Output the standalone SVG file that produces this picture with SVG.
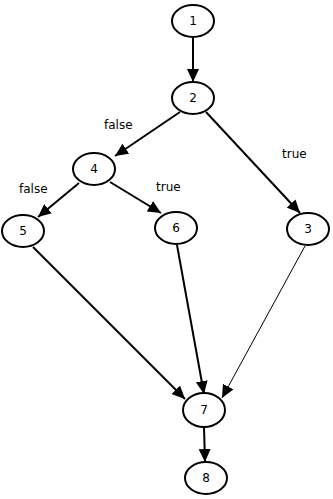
<svg xmlns="http://www.w3.org/2000/svg" width="333" height="499" viewBox="0 0 333 499">
  <style>
    .node ellipse { fill: #ffffff; stroke: #000000; stroke-width: 2; }
    .node text, .lbl { font-family: "DejaVu Sans", "Liberation Sans", sans-serif; font-size: 12px; fill: #000000; }
    .node text { text-anchor: middle; dominant-baseline: central; }
    .edge { stroke: #000000; stroke-width: 2; fill: none; marker-end: url(#arrow); }
    .thin { stroke-width: 1; }
  </style>
  <defs>
    <marker id="arrow" markerUnits="userSpaceOnUse" markerWidth="14" markerHeight="12" refX="13" refY="6" orient="auto">
      <path d="M0,0 L13,6 L0,12 Z" fill="#000000"/>
    </marker>
  </defs>
  <rect width="333" height="499" fill="#ffffff"/>

  <g id="connectors">
    <line class="edge" x1="193" y1="37" x2="193" y2="82"/>
    <line class="edge" x1="180" y1="112" x2="115" y2="156"/>
    <line class="edge" x1="206" y1="112" x2="300" y2="213"/>
    <line class="edge" x1="79" y1="183" x2="38" y2="217"/>
    <line class="edge" x1="110" y1="182" x2="161" y2="213"/>
    <line class="edge" x1="33" y1="247" x2="185" y2="399"/>
    <line class="edge" x1="177" y1="245" x2="204" y2="394"/>
    <line class="edge thin" x1="305" y1="246" x2="222" y2="398"/>
    <line class="edge" x1="204" y1="427" x2="205" y2="462"/>
  </g>

  <g id="labels">
    <text class="lbl" x="104" y="129">false</text>
    <text class="lbl" x="282" y="158">true</text>
    <text class="lbl" x="19" y="193">false</text>
    <text class="lbl" x="156" y="191">true</text>
  </g>

  <g id="n1" class="node"><ellipse cx="193" cy="21" rx="21" ry="16"/><text x="193" y="21">1</text></g>
  <g id="n2" class="node"><ellipse cx="193" cy="98" rx="21" ry="16"/><text x="193" y="98">2</text></g>
  <g id="n4" class="node"><ellipse cx="94" cy="169" rx="21" ry="16"/><text x="94" y="169">4</text></g>
  <g id="n5" class="node"><ellipse cx="23" cy="231" rx="21" ry="16"/><text x="23" y="231">5</text></g>
  <g id="n6" class="node"><ellipse cx="176" cy="228" rx="21" ry="16"/><text x="176" y="228">6</text></g>
  <g id="n3" class="node"><ellipse cx="308" cy="229" rx="21" ry="16"/><text x="308" y="229">3</text></g>
  <g id="n7" class="node"><ellipse cx="204" cy="410" rx="21" ry="17"/><text x="204" y="410">7</text></g>
  <g id="n8" class="node"><ellipse cx="206" cy="478" rx="21" ry="16"/><text x="206" y="478">8</text></g>
</svg>
